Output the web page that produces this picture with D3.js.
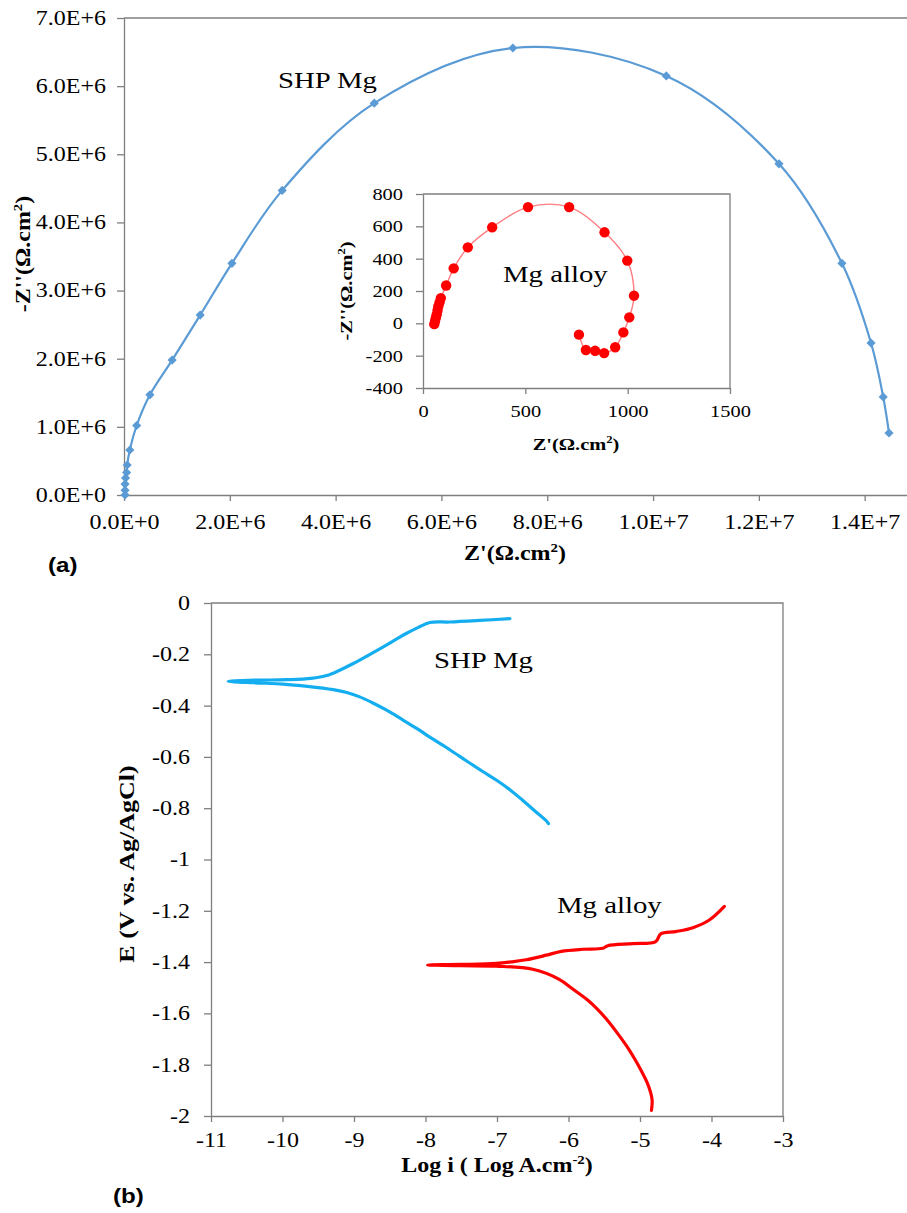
<!DOCTYPE html>
<html>
<head>
<meta charset="utf-8">
<script src="https://cdn.jsdelivr.net/npm/d3@7"></script>
<style>
  body { margin: 0; background: #fff; }
  text { font-family: "Liberation Serif", "Times New Roman", serif; fill: #000; }
  .axis path, .axis line { stroke: #7f7f7f; stroke-width: 1.3; }
</style>
</head>
<body>
<div id="chart"></div>
<script>
// (a) Nyquist, SHP Mg
const shpZre = [0.02e6, 0.02e6, 0.02e6, 0.03e6, 0.05e6, 0.06e6, 0.11e6, 0.24e6, 0.49e6, 0.91e6, 1.44e6, 2.04e6, 2.99e6, 4.73e6, 7.35e6, 10.25e6, 12.38e6, 13.57e6, 14.12e6, 14.35e6, 14.46e6];
const shpZim = [0.0, 0.07e6, 0.16e6, 0.25e6, 0.33e6, 0.44e6, 0.66e6, 1.02e6, 1.47e6, 1.98e6, 2.64e6, 3.4e6, 4.47e6, 5.75e6, 6.56e6, 6.15e6, 4.86e6, 3.4e6, 2.23e6, 1.44e6, 0.91e6];

// (a) inset, Mg alloy
const alloyZre = [55, 59, 63, 67, 71, 75, 81, 87, 113, 150, 219, 338, 513, 714, 887, 998, 1031, 1008, 979, 939, 885, 841, 796, 762];
const alloyZim = [-5, 15, 35, 54, 80, 105, 130, 156, 234, 340, 470, 594, 719, 719, 563, 388, 171, 37, -56, -148, -184, -170, -165, -70];

// (b) polarization curves
const shpLogI = [-6.28, -6.31, -6.49, -6.65, -6.82, -7.0, -7.2, -7.43, -7.66, -7.9, -8.13, -8.34, -8.55, -8.75, -8.92, -9.1, -9.29, -9.65, -9.99, -10.4, -10.76, -10.4, -9.95, -9.6, -9.38, -9.2, -9.01, -8.8, -8.59, -8.43, -8.27, -8.1, -7.94, -7.66, -7.24, -6.82];
const shpE = [-0.86, -0.849, -0.806, -0.767, -0.728, -0.692, -0.657, -0.615, -0.572, -0.53, -0.488, -0.452, -0.417, -0.388, -0.366, -0.349, -0.338, -0.325, -0.316, -0.311, -0.305, -0.301, -0.299, -0.294, -0.283, -0.262, -0.236, -0.204, -0.171, -0.145, -0.119, -0.095, -0.076, -0.074, -0.068, -0.061];
const alloyLogI = [-4.84, -4.83, -4.85, -4.9, -4.98, -5.08, -5.19, -5.33, -5.47, -5.6, -5.75, -5.95, -6.13, -6.5, -7.01, -7.5, -7.97, -7.5, -7.01, -6.8, -6.59, -6.31, -6.1, -5.8, -5.52, -5.45, -5.1, -4.78, -4.71, -4.5, -4.26, -4.03, -3.82];
const alloyE = [-1.978, -1.94, -1.91, -1.87, -1.825, -1.775, -1.726, -1.672, -1.622, -1.582, -1.544, -1.503, -1.467, -1.428, -1.416, -1.414, -1.411, -1.409, -1.405, -1.399, -1.391, -1.373, -1.358, -1.35, -1.346, -1.336, -1.328, -1.32, -1.29, -1.281, -1.266, -1.236, -1.183];

// tick values and labels
const nyqXTicks = [0, 2e6, 4e6, 6e6, 8e6, 10e6, 12e6, 14e6];
const nyqXLabels = ["0.0E+0", "2.0E+6", "4.0E+6", "6.0E+6", "8.0E+6", "1.0E+7", "1.2E+7", "1.4E+7"];
const nyqYTicks = [0, 1e6, 2e6, 3e6, 4e6, 5e6, 6e6, 7e6];
const nyqYLabels = ["0.0E+0", "1.0E+6", "2.0E+6", "3.0E+6", "4.0E+6", "5.0E+6", "6.0E+6", "7.0E+6"];
const insetXTicks = [0, 500, 1000, 1500];
const insetXLabels = ["0", "500", "1000", "1500"];
const insetYTicks = [-400, -200, 0, 200, 400, 600, 800];
const insetYLabels = ["-400", "-200", "0", "200", "400", "600", "800"];
const tafXTicks = [-11, -10, -9, -8, -7, -6, -5, -4, -3];
const tafXLabels = ["-11", "-10", "-9", "-8", "-7", "-6", "-5", "-4", "-3"];
const tafYTicks = [0, -0.2, -0.4, -0.6, -0.8, -1, -1.2, -1.4, -1.6, -1.8, -2];
const tafYLabels = ["0", "-0.2", "-0.4", "-0.6", "-0.8", "-1", "-1.2", "-1.4", "-1.6", "-1.8", "-2"];

const K = 1.2; // text in the figure is horizontally stretched

const svg = d3.select("#chart").append("svg")
  .attr("width", 907).attr("height", 1213)
  .style("background", "#fff");

function zip(a, b) { return a.map((v, i) => [v, b[i]]); }

function styleTicks(g, fs, x, y, anchor) {
  g.selectAll("text")
    .style("font-size", fs + "px")
    .attr("x", x / K)
    .attr("y", y)
    .attr("text-anchor", anchor)
    .attr("transform", "scale(" + K + ",1)");
}

function label(x, y, txt, opts) {
  const t = svg.append("text")
    .attr("transform", "translate(" + x + "," + y + ")" + (opts.rotate ? " rotate(-90)" : "") + " scale(" + (opts.k || K) + ",1)")
    .attr("text-anchor", opts.anchor || "start")
    .style("font-size", opts.size + "px")
    .style("font-weight", opts.bold ? "bold" : "normal");
  if (opts.family) t.style("font-family", opts.family);
  t.append("tspan").text(txt);
  if (opts.sup) {
    t.append("tspan").attr("dy", -opts.size * 0.4).style("font-size", (opts.size * 0.62) + "px").text(opts.sup);
    t.append("tspan").attr("dy", opts.size * 0.4).text(opts.after || "");
  }
  return t;
}

// ---------- (a) main Nyquist ----------
const xA = d3.scaleLinear().domain([0, 1.48e7]).range([124, 907]);
const yA = d3.scaleLinear().domain([0, 7e6]).range([495, 18]);

svg.append("line").attr("x1", 124).attr("x2", 907).attr("y1", 18).attr("y2", 18)
  .attr("stroke", "#7f7f7f").attr("stroke-width", 1.3);

svg.append("g").attr("class", "axis")
  .attr("transform", "translate(0,495)")
  .call(d3.axisBottom(xA).tickValues(nyqXTicks).tickFormat((d, i) => nyqXLabels[i]).tickSize(6).tickSizeOuter(0))
  .call(g => styleTicks(g, 20, 0, 20, "middle"));

svg.append("g").attr("class", "axis")
  .attr("transform", "translate(124,0)")
  .call(d3.axisLeft(yA).tickValues(nyqYTicks).tickFormat((d, i) => nyqYLabels[i]).tickSize(7).tickSizeOuter(0))
  .call(g => styleTicks(g, 20, -18, 0, "end"));

const shpPts = zip(shpZre, shpZim);
svg.append("path").datum(shpPts)
  .attr("fill", "none").attr("stroke", "#5b9bd5").attr("stroke-width", 2.2)
  .attr("d", d3.line().x(d => xA(d[0])).y(d => yA(d[1])).curve(d3.curveCatmullRom));
svg.selectAll(".dia").data(shpPts).enter().append("path")
  .attr("class", "dia")
  .attr("transform", d => "translate(" + xA(d[0]) + "," + yA(d[1]) + ") rotate(45)")
  .attr("d", d3.symbol(d3.symbolSquare, 42))
  .attr("fill", "#5b9bd5");

label(278, 88, "SHP Mg", { size: 24 });
label(515, 560, "Z'(Ω.cm", { size: 20, bold: true, anchor: "middle", sup: "2", after: ")" });
label(30, 254, "-Z''(Ω.cm", { size: 20, bold: true, anchor: "middle", rotate: true, sup: "2", after: ")" });
label(48, 572, "(a)", { size: 21, bold: true, family: "Liberation Sans, Arial, sans-serif", k: 1.15 });

// ---------- (a) inset ----------
const xI = d3.scaleLinear().domain([0, 1500]).range([423, 730]);
const yI = d3.scaleLinear().domain([-400, 800]).range([388, 194]);

svg.append("path")
  .attr("d", "M" + xI(0) + "," + yI(800) + "H" + xI(1500) + "V" + yI(-400))
  .attr("fill", "none").attr("stroke", "#7f7f7f").attr("stroke-width", 1.3);

svg.append("g").attr("class", "axis")
  .attr("transform", "translate(0," + yI(-400) + ")")
  .call(d3.axisBottom(xI).tickValues(insetXTicks).tickFormat((d, i) => insetXLabels[i]).tickSize(6).tickSizeOuter(0))
  .call(g => styleTicks(g, 17, 0, 17, "middle"));

svg.append("g").attr("class", "axis")
  .attr("transform", "translate(" + xI(0) + ",0)")
  .call(d3.axisLeft(yI).tickValues(insetYTicks).tickFormat((d, i) => insetYLabels[i]).tickSize(7).tickSizeOuter(0))
  .call(g => styleTicks(g, 17, -20, 0, "end"));

const alloyPts = zip(alloyZre, alloyZim);
svg.append("path").datum(alloyPts)
  .attr("fill", "none").attr("stroke", "#ff7c80").attr("stroke-width", 1.4)
  .attr("d", d3.line().x(d => xI(d[0])).y(d => yI(d[1])).curve(d3.curveCatmullRom));
svg.selectAll(".dot").data(alloyPts).enter().append("circle")
  .attr("class", "dot")
  .attr("cx", d => xI(d[0])).attr("cy", d => yI(d[1]))
  .attr("r", 5.2).attr("fill", "#ff0000");

label(503, 282, "Mg alloy", { size: 24 });
label(576, 450, "Z'(Ω.cm", { size: 17, bold: true, anchor: "middle", sup: "2", after: ")" });
label(352, 291, "-Z''(Ω.cm", { size: 17, bold: true, anchor: "middle", rotate: true, sup: "2", after: ")" });

// ---------- (b) polarization ----------
const xB = d3.scaleLinear().domain([-11, -3]).range([211, 783]);
const yB = d3.scaleLinear().domain([-2, 0]).range([1116, 603]);

svg.append("path")
  .attr("d", "M" + xB(-11) + "," + yB(0) + "H" + xB(-3) + "V" + yB(-2))
  .attr("fill", "none").attr("stroke", "#7f7f7f").attr("stroke-width", 1.3);

svg.append("g").attr("class", "axis")
  .attr("transform", "translate(0," + yB(-2) + ")")
  .call(d3.axisBottom(xB).tickValues(tafXTicks).tickFormat((d, i) => tafXLabels[i]).tickSize(6).tickSizeOuter(0))
  .call(g => styleTicks(g, 20, 0, 17, "middle"));

svg.append("g").attr("class", "axis")
  .attr("transform", "translate(" + xB(-11) + ",0)")
  .call(d3.axisLeft(yB).tickValues(tafYTicks).tickFormat((d, i) => tafYLabels[i]).tickSize(7).tickSizeOuter(0))
  .call(g => styleTicks(g, 20, -21, 0, "end"));

const tafLine = d3.line().x(d => xB(d[0])).y(d => yB(d[1])).curve(d3.curveCatmullRom.alpha(0.5));
svg.append("path").datum(zip(shpLogI, shpE))
  .attr("fill", "none").attr("stroke", "#14aef0").attr("stroke-width", 3.2)
  .attr("stroke-linejoin", "round").attr("stroke-linecap", "round")
  .attr("d", tafLine);
svg.append("path").datum(zip(alloyLogI, alloyE))
  .attr("fill", "none").attr("stroke", "#ff0000").attr("stroke-width", 3.2)
  .attr("stroke-linejoin", "round").attr("stroke-linecap", "round")
  .attr("d", tafLine);

label(434, 668, "SHP Mg", { size: 24 });
label(557, 913, "Mg alloy", { size: 24 });
label(497, 1172, "Log i ( Log A.cm", { size: 20, bold: true, anchor: "middle", sup: "-2", after: ")" });
label(134, 864, "E (V vs. Ag/AgCl)", { size: 20, bold: true, anchor: "middle", rotate: true, k: 1.3 });
label(113, 1203, "(b)", { size: 21, bold: true, family: "Liberation Sans, Arial, sans-serif", k: 1.15 });
</script>
</body>
</html>
